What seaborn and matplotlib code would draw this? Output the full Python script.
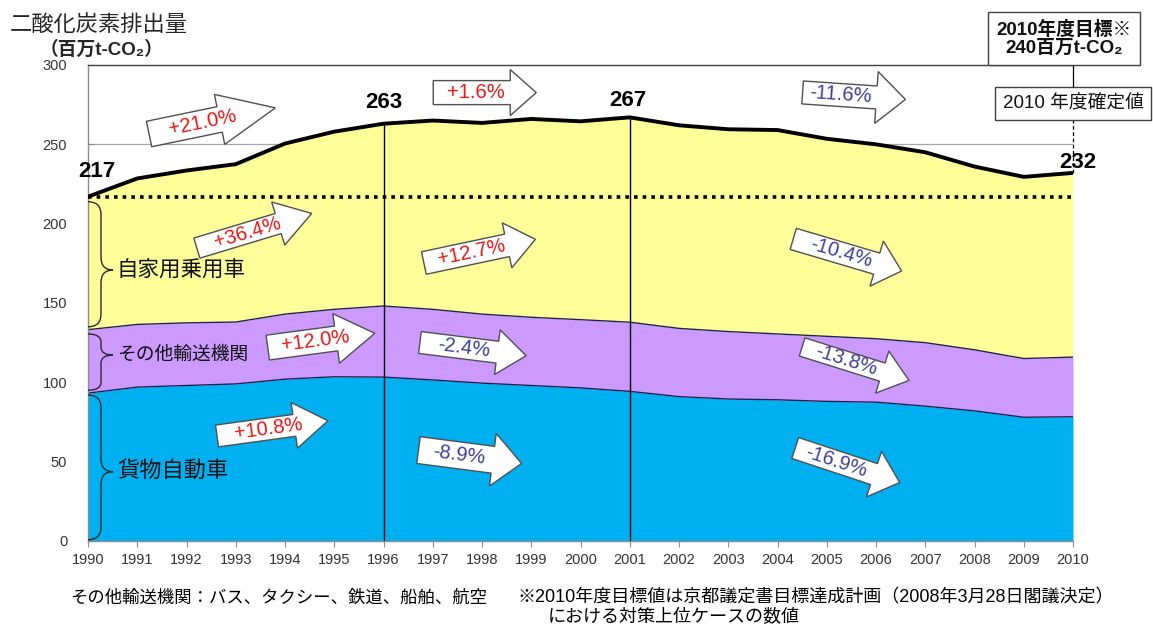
import matplotlib
matplotlib.use("Agg")
import matplotlib.pyplot as plt
from matplotlib.patches import Polygon, PathPatch
from matplotlib.path import Path
from matplotlib.transforms import Affine2D, ScaledTranslation
import numpy as np
import seaborn as sns

# ---- data (百万t-CO2) ----
years = list(range(1990, 2011))
freight = [93.2, 97, 98, 99, 102, 103.5, 103.3, 101.5, 99.5, 98, 96.5,
           94.3, 91, 89.5, 89, 88, 87.5, 85, 82, 78, 78.3]
other = [40, 39.5, 39.5, 39, 41, 42.5, 44.8, 44.5, 43.5, 43, 43,
         43.6, 43, 42.5, 41.5, 41, 40, 40, 38.5, 37, 37.6]
car = [83.8, 92, 96, 99.5, 107.5, 112, 114.9, 119, 120.5, 125, 125,
       129.1, 128, 127.5, 128.5, 124.5, 122.5, 120, 115.5, 114.5, 116.1]
labeled_years = [1990, 1996, 2001, 2010]
category_names = ["貨物自動車", "その他輸送機関", "自家用乗用車"]
change_labels = ["+21.0%", "+36.4%", "+12.0%", "+10.8%",
                 "+1.6%", "+12.7%", "-2.4%", "-8.9%",
                 "-11.6%", "-10.4%", "-13.8%", "-16.9%"]
x_ticks = years
y_ticks = [0, 50, 100, 150, 200, 250, 300]

# ---- style ----
sns.set_theme(style="white")
plt.rcParams["font.family"] = ["Liberation Sans", "Noto Sans CJK JP", "DejaVu Sans"]

C_FREIGHT = "#00B0F0"
C_OTHER = "#CC99FF"
C_CAR = "#FFFF99"
C_EDGE = "#1C2452"
C_POS = "#F01414"
C_NEG = "#3F3F99"

fig = plt.figure(figsize=(11.53, 6.28), dpi=100)
ax = fig.add_axes([88 / 1153, 87 / 628, 985 / 1153, 476 / 628])

yr = np.array(years, dtype=float)
f = np.array(freight)
o = f + np.array(other)
total = o + np.array(car)

ax.set_xlim(1990, 2010)
ax.set_ylim(0, 300)

# horizontal guides behind the areas
for yv in y_ticks[1:-1]:
    ax.axhline(yv, color="#A6A6A6", lw=0.9, zorder=0)

# stacked areas
ax.fill_between(yr, 0, f, color=C_FREIGHT, lw=0, zorder=1)
ax.fill_between(yr, f, o, color=C_OTHER, lw=0, zorder=1)
ax.fill_between(yr, o, total, color=C_CAR, lw=0, zorder=1)
ax.plot(yr, f, color=C_EDGE, lw=1.0, zorder=2)
ax.plot(yr, o, color=C_EDGE, lw=1.0, zorder=2)

# marker years
for yv in (1996, 2001):
    i = years.index(yv)
    ax.plot([yv, yv], [0, total[i]], color="black", lw=1.0, zorder=2.5)

# 1990 level reference
ax.plot([1990, 2010], [total[0], total[0]], color="black", lw=2.6,
        linestyle=(0, (1, 1.4)), zorder=3)

# total emissions line
sns.lineplot(x=years, y=total, ax=ax, color="black", lw=2.8, zorder=4,
             legend=False)

# total value labels
label_offsets = {1990: (9, 25), 1996: (0, 21), 2001: (-2, 17), 2010: (5, 10)}
for yv in labeled_years:
    i = years.index(yv)
    dx, dy = label_offsets[yv]
    ax.annotate(f"{total[i]:.0f}", xy=(yv, total[i]), xytext=(dx, dy),
                textcoords="offset pixels", ha="center", va="center",
                fontsize=16, fontweight="bold", color="black", zorder=6,
                annotation_clip=False)

# change-rate arrows: anchor (year, value), angle, body, head, head h, body h, text pos
arrow_layout = [
    (1991.24, 256.5, 11.7, 72, 57, 51, 26, 0.42),
    (1992.21, 184.6, 16.8, 85, 35, 45, 21, 0.44),
    (1993.65, 121.9, 7.6, 69, 39, 50, 25, 0.44),
    (1992.62, 66.2, 7.8, 78, 34, 46, 22, 0.46),
    (1997.01, 282.6, 0.0, 77, 26, 46, 24, 0.41),
    (1996.82, 175.2, 12.0, 85, 29, 46, 23, 0.43),
    (1996.74, 125.1, -7.1, 78, 29, 45, 22, 0.41),
    (1996.71, 57.3, -7.4, 75, 29, 53, 27, 0.39),
    (2004.51, 282.7, -3.9, 74, 29, 52, 23, 0.37),
    (2004.32, 190.4, -16.5, 87, 26, 47, 22, 0.44),
    (2004.50, 122.3, -17.4, 84, 28, 44, 19, 0.41),
    (2004.36, 58.6, -18.3, 83, 27, 48, 22, 0.39),
]
for text, (ax_x, ax_y, ang, body, head, hh, bh, tf) in zip(change_labels, arrow_layout):
    pts = [(0, -bh / 2), (body, -bh / 2), (body, -hh / 2), (body + head, 0),
           (body, hh / 2), (body, bh / 2), (0, bh / 2)]
    tr = Affine2D().rotate_deg(ang) + ScaledTranslation(ax_x, ax_y, ax.transData)
    ax.add_patch(Polygon(pts, closed=True, facecolor="white",
                         edgecolor="#505050", lw=1.0, transform=tr, zorder=5,
                         clip_on=False))
    d = tf * (body + head)
    off = (d * np.cos(np.radians(ang)), d * np.sin(np.radians(ang)))
    ax.annotate(text, xy=(ax_x, ax_y), xytext=off, textcoords="offset pixels",
                ha="center", va="center", rotation=ang, rotation_mode="anchor",
                fontsize=14.5, color=C_POS if text.startswith("+") else C_NEG,
                zorder=6, annotation_clip=False)

# braces and category names
px = 1 / 49.25  # one pixel in year units


def brace(y_bot, y_top, y_tip, r):
    x0, x1, xt = 1990.0, 1990 + 13 * px, 1990 + 25 * px
    verts = [(x0, y_top), (x1, y_top), (x1, y_top - r),
             (x1, y_tip + r), (x1, y_tip), (xt, y_tip),
             (x1, y_tip), (x1, y_tip - r),
             (x1, y_bot + r), (x1, y_bot), (x0, y_bot)]
    codes = [Path.MOVETO, Path.CURVE3, Path.CURVE3,
             Path.LINETO, Path.CURVE3, Path.CURVE3,
             Path.CURVE3, Path.CURVE3,
             Path.LINETO, Path.CURVE3, Path.CURVE3]
    ax.add_patch(PathPatch(Path(verts, codes), facecolor="none",
                           edgecolor="#2B2B2B", lw=1.0, zorder=4))


brace_spans = [(0.8, 92.0, 43.7, 8), (95.0, 130.5, 117.2, 5), (135.0, 213.8, 170.8, 8)]
name_sizes = [16, 13.5, 15.5]
for name, (yb, yt, ym, r), fs in zip(category_names, brace_spans, name_sizes):
    brace(yb, yt, ym, r)
    ax.text(1990 + 29 * px, ym, name, fontsize=fs, color="#111111",
            ha="left", va="center", zorder=6)

# axes styling
ax.set_xticks(x_ticks)
ax.set_xticklabels([str(v) for v in x_ticks])
ax.set_yticks(y_ticks)
ax.set_yticklabels([str(v) for v in y_ticks])
ax.tick_params(axis="x", direction="out", length=4, width=0.8, color="#8C8C8C",
               labelsize=10.5, labelcolor="#333333", pad=5, bottom=True)
ax.tick_params(axis="y", direction="in", length=4, width=0.8, color="#8C8C8C",
               labelsize=10.5, labelcolor="#333333", pad=15, left=True)
for side in ("left", "bottom"):
    ax.spines[side].set_color("#8C8C8C")
    ax.spines[side].set_linewidth(1.0)
ax.spines["top"].set_color("#404040")
ax.spines["top"].set_linewidth(1.0)
ax.spines["right"].set_visible(False)
ax.grid(False)
ax.set_xlabel("")
ax.set_ylabel("")

# 2010 target / final value boxes
ax.plot([2010, 2010], [total[-1], 281], color="black", lw=0.9,
        linestyle=(0, (3, 2)), zorder=3, clip_on=False)
ax.plot([2010, 2010], [281, 312], color="black", lw=0.9, zorder=3, clip_on=False)
ax.text(2009.82, 316.6, "2010年度目標※\n240百万t-CO₂", ha="center", va="center",
        fontsize=13.5, fontweight="bold", linespacing=1.1, color="#111111",
        bbox=dict(boxstyle="square,pad=0.45", facecolor="white",
                  edgecolor="#404040", lw=1.0), zorder=7, clip_on=False)
ax.text(2010.0, 275.7, "2010 年度確定値", ha="center", va="center",
        fontsize=13.5, color="#111111",
        bbox=dict(boxstyle="square,pad=0.4", facecolor="white",
                  edgecolor="#404040", lw=1.0), zorder=7, clip_on=False)

# titles and notes
fig.text(10 / 1153, 1 - 25 / 628, "二酸化炭素排出量", fontsize=16,
         color="#262626", ha="left", va="center")
fig.text(40 / 1153, 1 - 50 / 628, "（百万t-CO₂）", fontsize=13.5,
         fontweight="bold", color="#262626", ha="left", va="center")
fig.text(70 / 1153, 1 - 598 / 628, "その他輸送機関：バス、タクシー、鉄道、船舶、航空",
         fontsize=12.5, color="black", ha="left", va="center")
fig.text(517 / 1153, 1 - 598 / 628,
         "※2010年度目標値は京都議定書目標達成計画（2008年3月28日閣議決定）",
         fontsize=13, color="black", ha="left", va="center")
fig.text(548 / 1153, 1 - 618 / 628, "における対策上位ケースの数値",
         fontsize=13, color="black", ha="left", va="center")

fig.savefig("out.png", dpi=100, facecolor="white")
